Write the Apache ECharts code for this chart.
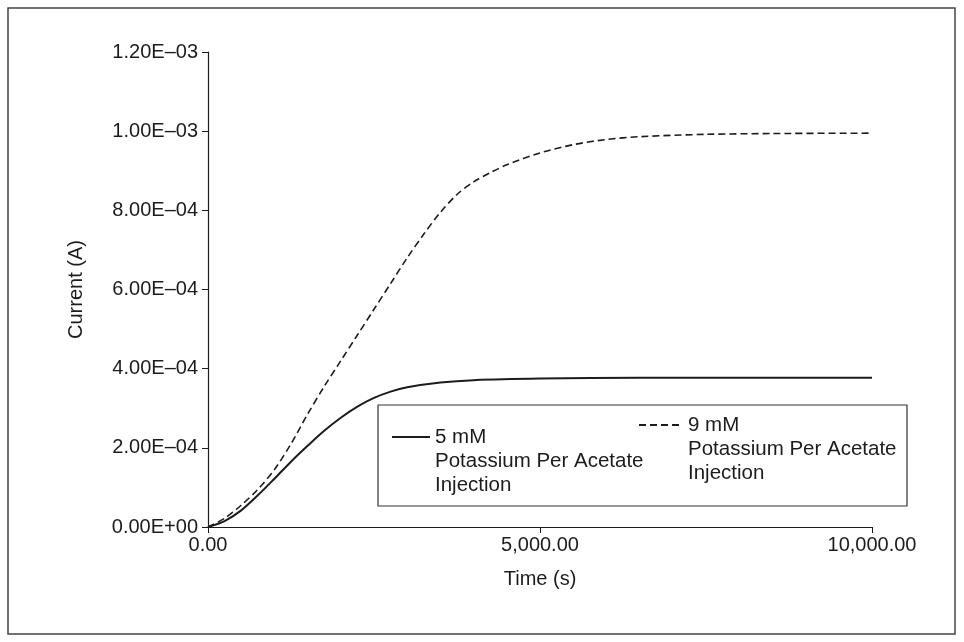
<!DOCTYPE html>
<html>
<head>
<meta charset="utf-8">
<script src="https://cdn.jsdelivr.net/npm/echarts@6/dist/echarts.min.js"></script>
<style>
  html, body { margin: 0; padding: 0; background: #fff; }
  #chart { width: 964px; height: 642px; }
</style>
</head>
<body>
<div id="chart"></div>
<script>
// data (time in s, current in A)
var time5mM = [0, 250, 500, 750, 1000, 1250, 1500, 1750, 2000, 2250, 2500, 2750, 3000, 3500, 4000, 5000, 6500, 10000];
var current5mM = [0, 0.15e-4, 0.42e-4, 0.8e-4, 1.22e-4, 1.65e-4, 2.05e-4, 2.43e-4, 2.76e-4, 3.04e-4, 3.26e-4, 3.42e-4, 3.53e-4, 3.65e-4, 3.71e-4, 3.75e-4, 3.77e-4, 3.77e-4];
var time9mM = [0, 250, 500, 750, 1000, 1250, 1500, 1750, 2000, 2250, 2500, 2750, 3000, 3250, 3500, 3750, 4000, 4250, 4500, 5000, 5500, 6000, 6500, 7500, 8500, 10000];
var current9mM = [0, 0.22e-4, 0.55e-4, 0.95e-4, 1.45e-4, 2.1e-4, 2.85e-4, 3.55e-4, 4.2e-4, 4.85e-4, 5.5e-4, 6.15e-4, 6.8e-4, 7.4e-4, 7.95e-4, 8.4e-4, 8.72e-4, 8.95e-4, 9.15e-4, 9.45e-4, 9.66e-4, 9.79e-4, 9.86e-4, 9.92e-4, 9.94e-4, 9.95e-4];
var seriesNames = ['5 mM\nPotassium Per Acetate\nInjection', '9 mM\nPotassium Per Acetate\nInjection'];
var xTickLabels = ['0.00', '5,000.00', '10,000.00'];
var yTickLabels = ['0.00E+00', '2.00E\u201304', '4.00E\u201304', '6.00E\u201304', '8.00E\u201304', '1.00E\u201303', '1.20E\u201303'];

function pairs(xs, ys) {
  return xs.map(function (x, i) { return [x, ys[i]]; });
}

var font = 'Liberation Sans, Arial, sans-serif';
var ink = '#1c1c1c';
var fs = 20;

// legend text is centred on the icon, so two empty lines on top put the icon level with the first line
function legendText(name) { return '\n\n' + name; }

var myChart = echarts.init(document.getElementById('chart'));
var option = {
  backgroundColor: '#fff',
  animation: false,
  textStyle: { fontFamily: font, color: ink },
  grid: { left: 208, right: 92, top: 52, bottom: 115 },
  graphic: [
    { type: 'rect', shape: { x: 8, y: 8, width: 947, height: 626 },
      style: { fill: 'none', stroke: '#444', lineWidth: 1.5 }, silent: true },
    { type: 'rect', shape: { x: 378, y: 405, width: 529, height: 101 },
      style: { fill: '#fff', stroke: '#333', lineWidth: 1.2 }, z: 5, silent: true }
  ],
  legend: [
    {
      data: [seriesNames[0]], left: 391, top: 377, padding: 0, z: 10,
      itemWidth: 38, itemHeight: 12, formatter: legendText,
      itemStyle: { opacity: 0 },
      textStyle: { fontSize: 20.5, lineHeight: 24, color: ink }
    },
    {
      data: [seriesNames[1]], left: 638, top: 365, padding: 0, z: 10,
      itemWidth: 44, itemHeight: 12, formatter: legendText,
      itemStyle: { opacity: 0 },
      textStyle: { fontSize: 20.5, lineHeight: 24, color: ink }
    }
  ],
  xAxis: {
    type: 'value', min: 0, max: 10000, interval: 5000,
    name: 'Time (s)', nameLocation: 'middle', nameGap: 42,
    nameTextStyle: { fontSize: fs, color: ink },
    axisLine: { lineStyle: { color: ink, width: 1.2 } },
    axisTick: { length: 6, lineStyle: { color: ink } },
    axisLabel: { fontSize: fs, color: ink, margin: 8,
      formatter: function (v) { return xTickLabels[Math.round(v / 5000)]; } },
    splitLine: { show: false }
  },
  yAxis: {
    type: 'value', min: 0, max: 1.2e-3, interval: 2e-4,
    name: 'Current (A)', nameLocation: 'middle', nameGap: 122,
    nameTextStyle: { fontSize: fs, color: ink },
    axisLine: { show: true, lineStyle: { color: ink, width: 1.2 } },
    axisTick: { show: true, length: 6, lineStyle: { color: ink } },
    axisLabel: { fontSize: fs, color: ink, margin: 10,
      formatter: function (v) { return yTickLabels[Math.round(v / 2e-4)]; } },
    splitLine: { show: false }
  },
  series: [
    {
      name: seriesNames[0], type: 'line', data: pairs(time5mM, current5mM),
      smooth: 0.3, symbol: 'none', z: 3,
      lineStyle: { color: ink, width: 2, type: 'solid' },
      itemStyle: { color: ink }
    },
    {
      name: seriesNames[1], type: 'line', data: pairs(time9mM, current9mM),
      smooth: 0.3, symbol: 'none', z: 3,
      lineStyle: { color: ink, width: 1.6, type: [7, 4] },
      itemStyle: { color: ink }
    }
  ]
};
myChart.setOption(option);
</script>
</body>
</html>
